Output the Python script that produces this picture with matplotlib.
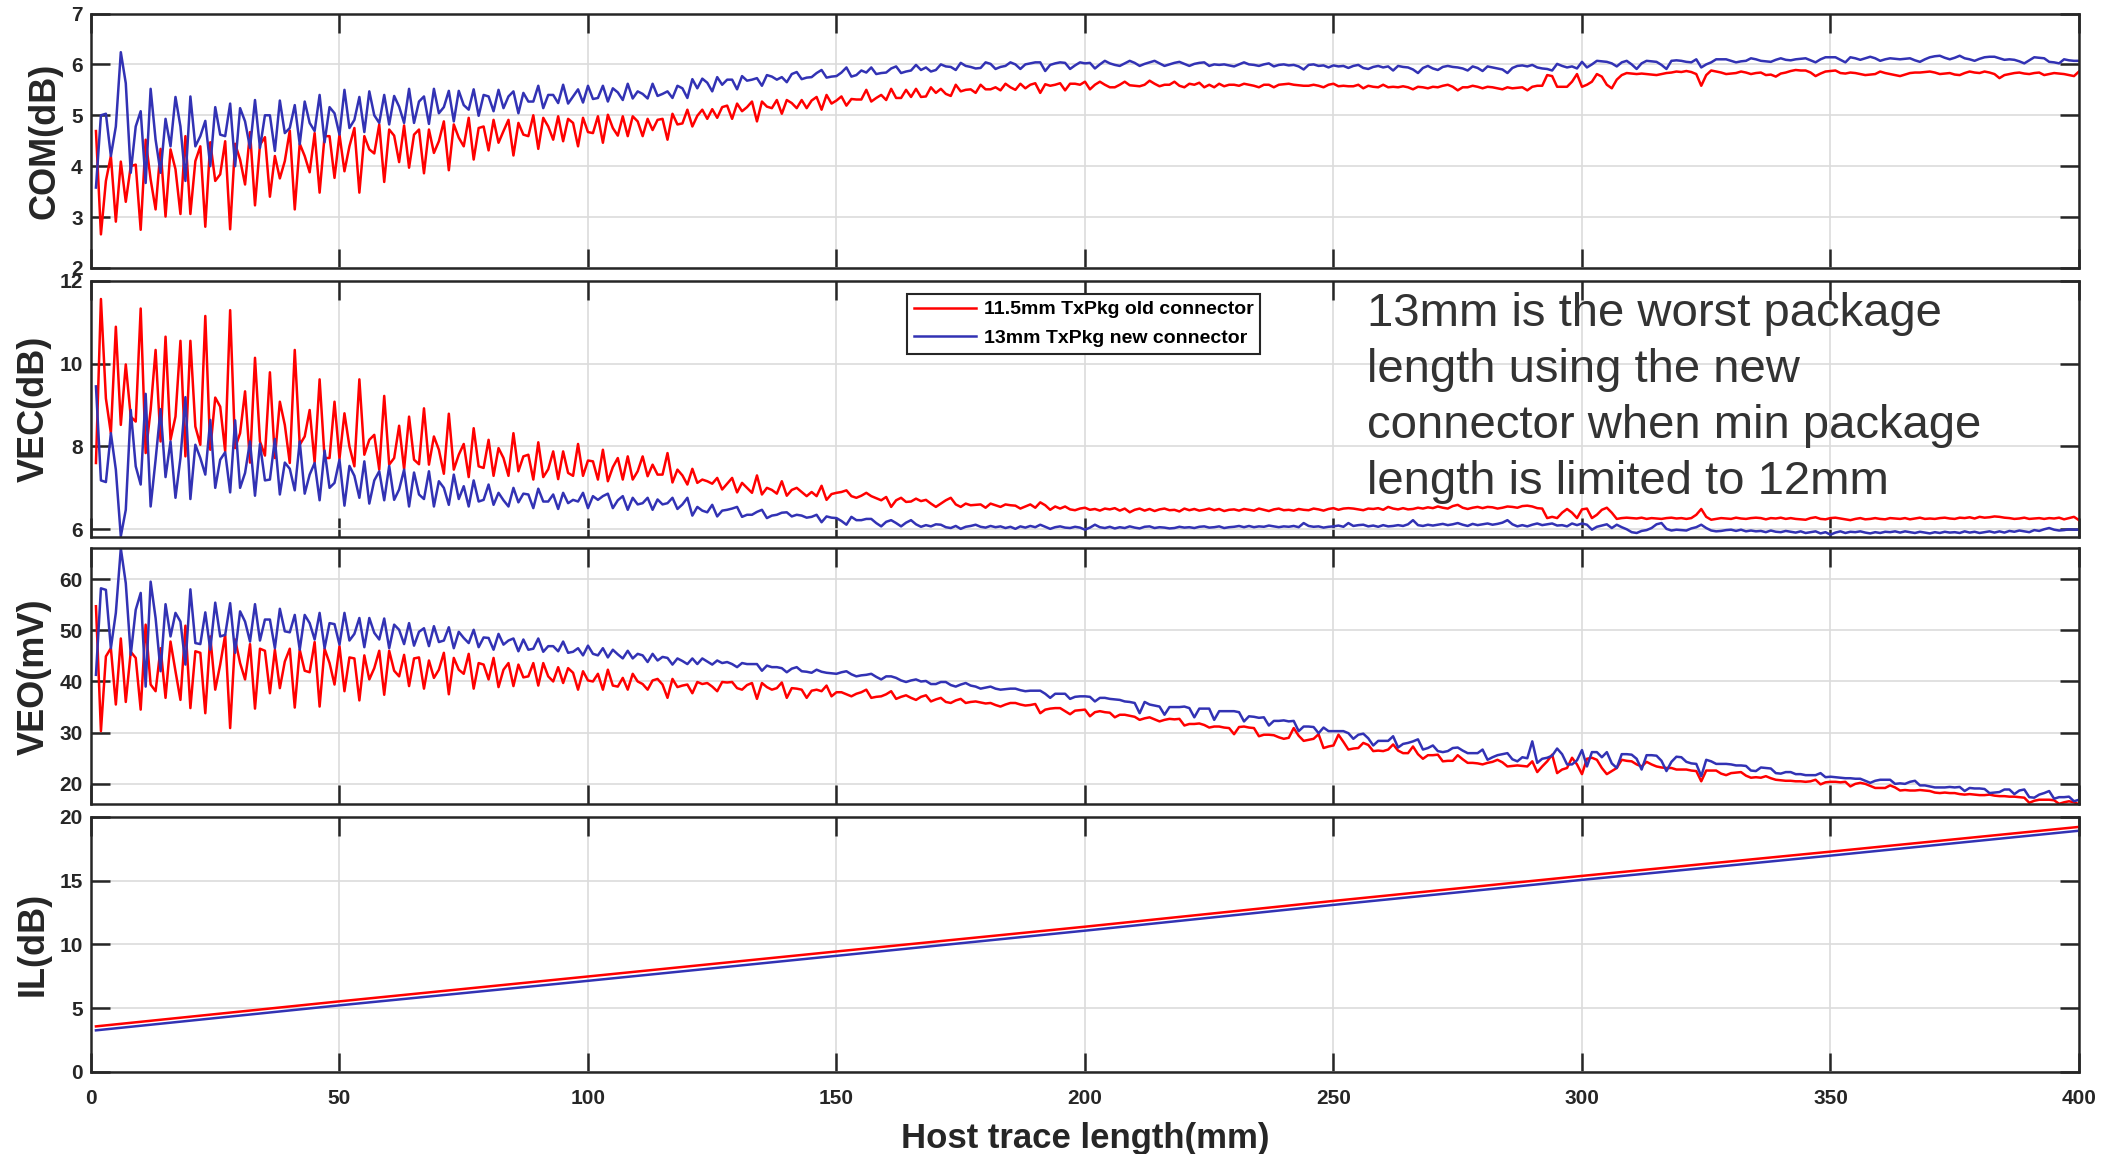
import numpy as np
import matplotlib.pyplot as plt

plt.rcParams['font.family'] = ['Liberation Sans', 'DejaVu Sans']
plt.rcParams['font.weight'] = 'bold'

old_label = '11.5mm TxPkg old connector'
new_label = '13mm TxPkg new connector'
note = ('13mm is the worst package\nlength using the new\n'
        'connector when min package\nlength is limited to 12mm')

# COM (dB), one sample per mm of host trace, 1..400
com_old = [
    4.69, 2.66, 3.71, 4.2, 2.91, 4.09, 3.3, 4.0, 4.03, 2.75,
    4.52, 3.74, 3.15, 4.34, 3.01, 4.33, 3.94, 3.06, 4.59, 3.06,
    4.1, 4.39, 2.81, 4.47, 3.71, 3.84, 4.49, 2.76, 4.44, 4.13,
    3.64, 4.67, 3.23, 4.42, 4.57, 3.4, 4.2, 3.76, 4.1, 4.7,
    3.15, 4.44, 4.2, 3.88, 4.65, 3.48, 4.59, 4.59, 3.77, 4.62,
    3.9, 4.39, 4.75, 3.48, 4.59, 4.33, 4.25, 4.82, 3.69, 4.72,
    4.6, 4.08, 4.8, 3.97, 4.62, 4.72, 3.86, 4.72, 4.26, 4.49,
    4.88, 3.92, 4.82, 4.56, 4.39, 4.95, 4.13, 4.75, 4.78, 4.31,
    4.91, 4.46, 4.69, 4.91, 4.21, 4.85, 4.62, 4.59, 5.0, 4.34,
    4.95, 4.78, 4.52, 4.98, 4.49, 4.93, 4.85, 4.39, 4.95, 4.67,
    4.65, 4.98, 4.46, 5.01, 4.75, 4.6, 4.98, 4.59, 4.98, 4.88,
    4.59, 4.93, 4.71, 4.91, 4.93, 4.52, 5.03, 4.82, 4.84, 5.11,
    4.78, 4.99, 5.11, 4.93, 5.12, 4.95, 5.16, 5.19, 4.93, 5.23,
    5.08, 5.16, 5.27, 4.88, 5.27, 5.17, 5.14, 5.3, 5.03, 5.3,
    5.24, 5.14, 5.3, 5.14, 5.29, 5.36, 5.11, 5.4, 5.23, 5.29,
    5.37, 5.19, 5.32, 5.31, 5.31, 5.5, 5.27, 5.34, 5.4, 5.3,
    5.52, 5.34, 5.34, 5.5, 5.36, 5.52, 5.36, 5.37, 5.55, 5.44,
    5.52, 5.42, 5.38, 5.6, 5.47, 5.5, 5.51, 5.44, 5.6, 5.51,
    5.51, 5.55, 5.49, 5.62, 5.55, 5.5, 5.62, 5.53, 5.6, 5.63,
    5.44, 5.61, 5.58, 5.6, 5.63, 5.49, 5.62, 5.62, 5.6, 5.66,
    5.51, 5.6, 5.66, 5.6, 5.55, 5.55, 5.6, 5.66, 5.59, 5.58,
    5.57, 5.6, 5.68, 5.62, 5.57, 5.6, 5.6, 5.66, 5.58, 5.55,
    5.62, 5.6, 5.64, 5.55, 5.6, 5.55, 5.62, 5.57, 5.6, 5.6,
    5.58, 5.62, 5.6, 5.58, 5.55, 5.6, 5.6, 5.55, 5.6, 5.61,
    5.62, 5.6, 5.59, 5.58, 5.58, 5.6, 5.58, 5.55, 5.6, 5.62,
    5.57, 5.58, 5.57, 5.57, 5.6, 5.53, 5.58, 5.56, 5.55, 5.6,
    5.55, 5.56, 5.55, 5.57, 5.55, 5.51, 5.56, 5.55, 5.53, 5.56,
    5.55, 5.58, 5.6, 5.56, 5.49, 5.55, 5.55, 5.58, 5.56, 5.53,
    5.56, 5.55, 5.53, 5.51, 5.55, 5.53, 5.54, 5.55, 5.49, 5.56,
    5.58, 5.58, 5.79, 5.77, 5.56, 5.56, 5.56, 5.66, 5.81, 5.56,
    5.6, 5.66, 5.81, 5.76, 5.6, 5.53, 5.7, 5.79, 5.83, 5.82,
    5.81, 5.82, 5.81, 5.8, 5.79, 5.81, 5.83, 5.84, 5.86, 5.85,
    5.87, 5.85, 5.81, 5.58, 5.79, 5.88, 5.86, 5.84, 5.81, 5.82,
    5.83, 5.86, 5.84, 5.81, 5.83, 5.84, 5.79, 5.8, 5.76, 5.82,
    5.84, 5.87, 5.89, 5.88, 5.88, 5.84, 5.77, 5.82, 5.86, 5.87,
    5.88, 5.83, 5.82, 5.84, 5.83, 5.81, 5.79, 5.8, 5.81, 5.86,
    5.83, 5.81, 5.79, 5.77, 5.8, 5.83, 5.84, 5.84, 5.85, 5.86,
    5.84, 5.81, 5.82, 5.83, 5.8, 5.79, 5.83, 5.86, 5.84, 5.83,
    5.86, 5.84, 5.81, 5.73, 5.79, 5.81, 5.83, 5.84, 5.82, 5.81,
    5.83, 5.84, 5.79, 5.81, 5.83, 5.82, 5.81, 5.79, 5.77, 5.86,
]
com_new = [
    3.58, 5.0, 5.03, 4.2, 4.78, 6.24, 5.63, 3.87, 4.78, 5.08,
    3.67, 5.52, 4.52, 3.87, 4.93, 4.39, 5.36, 4.78, 3.71, 5.37,
    4.39, 4.59, 4.89, 4.0, 5.16, 4.62, 4.59, 5.23, 4.0, 5.14,
    4.88, 4.36, 5.3, 4.36, 5.0, 5.0, 4.3, 5.29, 4.65, 4.75,
    5.2, 4.43, 5.27, 4.85, 4.69, 5.4, 4.47, 5.16, 5.04, 4.62,
    5.5, 4.75, 4.91, 5.36, 4.67, 5.47, 5.0, 4.85, 5.4, 4.82,
    5.38, 5.17, 4.85, 5.52, 4.85, 5.27, 5.37, 4.83, 5.52, 5.04,
    5.16, 5.48, 4.88, 5.48, 5.2, 5.11, 5.51, 4.99, 5.4, 5.37,
    5.08, 5.5, 5.14, 5.37, 5.47, 5.04, 5.44, 5.27, 5.27, 5.58,
    5.14, 5.4, 5.4, 5.24, 5.6, 5.23, 5.37, 5.51, 5.25, 5.58,
    5.32, 5.34, 5.58, 5.27, 5.53, 5.45, 5.3, 5.62, 5.33, 5.47,
    5.42, 5.33, 5.62, 5.38, 5.42, 5.47, 5.34, 5.58, 5.53, 5.34,
    5.71, 5.53, 5.72, 5.64, 5.47, 5.75, 5.6, 5.7, 5.7, 5.51,
    5.77, 5.68, 5.7, 5.73, 5.58, 5.79, 5.76, 5.7, 5.75, 5.65,
    5.81, 5.85, 5.71, 5.74, 5.75, 5.83, 5.89, 5.74, 5.76, 5.77,
    5.84, 5.94, 5.76, 5.79, 5.88, 5.84, 5.94, 5.81, 5.83, 5.84,
    5.92, 5.96, 5.83, 5.86, 5.88, 5.99, 5.89, 5.94, 5.86, 5.89,
    6.0, 5.96, 5.95, 5.89, 6.03, 5.97, 5.95, 5.92, 5.93, 6.04,
    6.01, 5.91, 5.95, 5.97, 6.04, 6.0, 5.91, 6.0, 6.02, 6.04,
    6.04, 5.87, 5.99, 6.02, 6.04, 6.03, 5.91, 5.98, 6.04, 6.02,
    6.03, 5.92, 6.0, 6.07, 6.02, 5.99, 5.97, 6.02, 6.07, 6.03,
    5.97, 6.01, 6.04, 6.07, 6.02, 5.97, 6.0, 6.03, 6.05, 6.01,
    5.97, 6.01, 6.03, 6.04, 5.97, 6.0, 5.99, 6.0, 5.98, 5.96,
    6.0, 6.04, 6.0, 5.99, 5.97, 6.0, 6.02, 5.96, 5.99, 6.0,
    5.98, 5.99, 5.96, 5.9, 5.99, 6.0, 5.97, 5.98, 5.94, 5.98,
    5.96, 5.97, 5.93, 5.97, 5.99, 5.93, 5.91, 5.95, 5.97, 5.94,
    5.96, 5.88, 5.97, 5.95, 5.94, 5.9, 5.83, 5.93, 5.97, 5.92,
    5.89, 5.95, 5.97, 5.95, 5.94, 5.92, 5.88, 5.96, 5.93, 5.87,
    5.96, 5.94, 5.92, 5.9, 5.83, 5.93, 5.97, 5.98, 5.96, 5.99,
    5.94, 5.92, 5.91, 5.88, 6.01, 5.97, 5.94, 5.96, 5.92, 6.05,
    5.94, 6.0, 6.07, 6.06, 6.05, 6.02, 5.96, 6.04, 6.07, 6.0,
    5.91, 6.02, 6.07, 6.06, 6.05, 5.99, 5.91, 6.07, 6.08, 6.07,
    6.05, 6.04, 6.1, 5.94, 6.0, 6.04, 6.1, 6.1, 6.1, 6.07,
    6.04, 6.06, 6.07, 6.12, 6.1, 6.07, 6.06, 6.05, 6.09, 6.12,
    6.09, 6.08, 6.1, 6.11, 6.12, 6.08, 6.04, 6.1, 6.14, 6.14,
    6.14, 6.09, 6.04, 6.14, 6.12, 6.09, 6.12, 6.15, 6.12, 6.07,
    6.1, 6.12, 6.11, 6.1, 6.11, 6.12, 6.08, 6.05, 6.1, 6.14,
    6.16, 6.17, 6.13, 6.1, 6.13, 6.17, 6.12, 6.1, 6.07, 6.11,
    6.14, 6.15, 6.15, 6.12, 6.09, 6.1, 6.09, 6.06, 6.02, 6.08,
    6.14, 6.13, 6.12, 6.05, 6.04, 6.02, 6.1, 6.08, 6.07, 6.07,
]

# VEC (dB)
vec_old = [
    7.6, 11.56, 9.16, 8.32, 10.89, 8.52, 9.98, 8.72, 8.6, 11.33,
    7.84, 8.88, 10.33, 8.12, 10.65, 8.16, 8.72, 10.55, 7.76, 10.55,
    8.48, 8.04, 11.15, 7.92, 9.18, 8.96, 7.88, 11.29, 7.96, 8.32,
    9.33, 7.61, 10.14, 8.12, 7.78, 9.79, 7.72, 9.08, 8.52, 7.6,
    10.33, 8.04, 8.24, 8.88, 7.61, 9.62, 7.72, 7.72, 9.08, 7.7,
    8.8, 8.0, 7.52, 9.62, 7.8, 8.16, 8.28, 7.44, 9.22, 7.56,
    7.72, 8.5, 7.45, 8.72, 7.68, 7.57, 8.92, 7.56, 8.24, 7.92,
    7.34, 8.79, 7.44, 7.8, 8.06, 7.26, 8.44, 7.52, 7.48, 8.16,
    7.29, 7.96, 7.72, 7.29, 8.32, 7.4, 7.76, 7.8, 7.2, 8.1,
    7.26, 7.45, 7.88, 7.21, 7.88, 7.36, 7.29, 8.06, 7.29, 7.66,
    7.64, 7.2, 7.92, 7.16, 7.5, 7.72, 7.2, 7.76, 7.2, 7.4,
    7.76, 7.28, 7.56, 7.32, 7.32, 7.84, 7.13, 7.44, 7.3, 7.08,
    7.46, 7.12, 7.2, 7.16, 7.1, 7.24, 6.96, 7.1, 7.24, 6.89,
    7.12, 7.0, 6.88, 7.3, 6.84, 7.0, 6.95, 6.86, 7.16, 6.81,
    6.95, 7.0, 6.9, 6.8, 6.9, 6.8, 7.05, 6.71, 6.85, 6.88,
    6.9, 6.94, 6.8, 6.76, 6.81, 6.88, 6.8, 6.75, 6.7, 6.78,
    6.54, 6.7, 6.76, 6.66, 6.67, 6.74, 6.68, 6.71, 6.62, 6.54,
    6.62, 6.7, 6.76, 6.6, 6.54, 6.62, 6.58, 6.59, 6.6, 6.52,
    6.62, 6.58, 6.54, 6.6, 6.58, 6.57, 6.5, 6.55, 6.6, 6.52,
    6.65, 6.58, 6.47, 6.55, 6.5, 6.55, 6.48, 6.46, 6.5, 6.52,
    6.47, 6.49, 6.45, 6.5, 6.48, 6.51, 6.45, 6.5, 6.41, 6.47,
    6.5, 6.45, 6.49, 6.44, 6.48, 6.5, 6.46, 6.47, 6.43, 6.5,
    6.46, 6.49, 6.45, 6.47, 6.5, 6.46, 6.49, 6.44, 6.47, 6.48,
    6.45, 6.49, 6.47, 6.45, 6.5, 6.47, 6.44, 6.48, 6.5, 6.46,
    6.47, 6.45, 6.49, 6.47, 6.46, 6.5, 6.48, 6.45, 6.49, 6.51,
    6.47, 6.5, 6.51, 6.5, 6.48, 6.46, 6.5, 6.49, 6.51, 6.47,
    6.54, 6.5, 6.48, 6.51, 6.48, 6.49, 6.52, 6.5, 6.53, 6.51,
    6.55, 6.52, 6.5, 6.56, 6.59, 6.52, 6.49, 6.52, 6.54, 6.51,
    6.54, 6.53, 6.5, 6.52, 6.55, 6.54, 6.52, 6.56, 6.57, 6.55,
    6.51, 6.5, 6.27, 6.3, 6.27, 6.4, 6.49, 6.4, 6.27, 6.48,
    6.5, 6.27, 6.35, 6.47, 6.52, 6.4, 6.25, 6.27, 6.28, 6.27,
    6.26, 6.28, 6.25, 6.27, 6.26, 6.25, 6.27, 6.28, 6.26, 6.27,
    6.25, 6.27, 6.35, 6.49, 6.3, 6.23, 6.25, 6.27, 6.26, 6.25,
    6.28, 6.26, 6.25, 6.27, 6.28, 6.27, 6.24, 6.27, 6.26, 6.28,
    6.25, 6.27, 6.25, 6.24, 6.23, 6.27, 6.29, 6.25, 6.24, 6.27,
    6.28, 6.26, 6.24, 6.22, 6.25, 6.27, 6.24, 6.25, 6.27, 6.25,
    6.24, 6.27, 6.26, 6.25, 6.27, 6.24, 6.26, 6.28, 6.25, 6.26,
    6.25, 6.27, 6.28, 6.26, 6.25, 6.28, 6.27, 6.29, 6.26, 6.3,
    6.28, 6.29, 6.31, 6.3, 6.28, 6.27, 6.25, 6.26, 6.28, 6.25,
    6.26, 6.27, 6.25, 6.27, 6.26, 6.28, 6.24, 6.27, 6.3, 6.22,
]
vec_new = [
    9.45, 7.18, 7.14, 8.32, 7.44, 5.83, 6.47, 8.88, 7.52, 7.08,
    9.27, 6.55, 7.68, 8.9, 7.26, 8.12, 6.76, 7.72, 9.19, 6.73,
    8.04, 7.72, 7.32, 8.64, 7.0, 7.68, 7.86, 6.89, 8.63, 7.0,
    7.36, 8.12, 6.81, 8.06, 7.18, 7.2, 8.18, 6.84, 7.61, 7.46,
    6.94, 8.12, 6.86, 7.32, 7.6, 6.7, 7.9, 7.0, 7.12, 7.68,
    6.57, 7.53, 7.29, 6.76, 7.64, 6.62, 7.18, 7.4, 6.7, 7.53,
    6.71, 6.96, 7.44, 6.55, 7.37, 6.84, 6.73, 7.4, 6.55, 7.16,
    7.0, 6.59, 7.32, 6.73, 7.04, 6.55, 7.18, 6.67, 6.71, 7.08,
    6.59, 6.88, 6.7, 6.55, 7.0, 6.65, 6.86, 6.84, 6.51, 6.98,
    6.67, 6.67, 6.84, 6.49, 6.88, 6.63, 6.71, 6.67, 6.88, 6.51,
    6.8, 6.71, 6.8, 6.86, 6.51, 6.7, 6.8, 6.47, 6.76, 6.6,
    6.63, 6.76, 6.47, 6.72, 6.6, 6.63, 6.76, 6.49, 6.6, 6.76,
    6.33, 6.54, 6.45, 6.41, 6.59, 6.31, 6.45, 6.47, 6.5, 6.54,
    6.3, 6.35, 6.35, 6.42, 6.47, 6.27, 6.33, 6.35, 6.4, 6.41,
    6.31, 6.35, 6.33, 6.28, 6.3, 6.35, 6.17, 6.31, 6.28, 6.27,
    6.2, 6.11, 6.3, 6.22, 6.22, 6.25, 6.25, 6.15, 6.07, 6.18,
    6.22, 6.15, 6.07, 6.16, 6.22, 6.12, 6.06, 6.1, 6.07, 6.12,
    6.11, 6.05, 6.03, 6.08, 6.01, 6.06, 6.08, 6.11, 6.06, 6.04,
    6.08, 6.05, 6.07, 6.03, 6.06, 6.01, 6.07, 6.04, 6.08, 6.05,
    6.11, 6.06, 6.01, 6.05, 6.07, 6.04, 6.03, 6.06, 6.04, 5.99,
    6.04, 6.11, 6.05, 6.03, 6.06, 6.02, 6.05, 6.03, 6.07, 6.04,
    6.02, 6.06, 6.07, 6.03, 6.05, 6.04, 6.02, 6.03, 6.06, 6.04,
    6.05, 6.03, 6.06, 6.07, 6.04, 6.05, 6.07, 6.03, 6.05, 6.06,
    6.08, 6.05, 6.08, 6.05, 6.07, 6.06, 6.09, 6.07, 6.05, 6.07,
    6.06, 6.08, 6.05, 6.15, 6.08, 6.06, 6.07, 6.04, 6.06, 6.07,
    6.09, 6.06, 6.15, 6.08, 6.1, 6.11, 6.07, 6.09, 6.06, 6.1,
    6.07, 6.08, 6.1, 6.08, 6.12, 6.22, 6.1, 6.08, 6.11, 6.09,
    6.11, 6.13, 6.1, 6.12, 6.15, 6.11, 6.08, 6.13, 6.1, 6.12,
    6.14, 6.11, 6.13, 6.16, 6.22, 6.12, 6.07, 6.1, 6.07, 6.11,
    6.14, 6.1, 6.12, 6.14, 6.09, 6.1, 6.07, 6.14, 6.1, 6.14,
    6.11, 5.99, 6.06, 6.09, 6.12, 6.03, 6.11, 6.05, 6.0, 5.93,
    5.91, 5.96, 5.98, 6.03, 6.12, 6.15, 6.01, 5.97, 5.99, 5.98,
    5.97, 6.02, 6.05, 6.11, 6.03, 5.97, 5.95, 5.96, 5.98, 5.99,
    5.96, 5.99, 5.95, 5.97, 5.95, 5.96, 5.93, 5.97, 5.94, 5.93,
    5.96, 5.94, 5.92, 5.95, 5.91, 5.93, 5.95, 5.9, 5.93, 5.87,
    5.92, 5.95, 5.91, 5.94, 5.93, 5.95, 5.92, 5.9, 5.93, 5.91,
    5.94, 5.93, 5.95, 5.92, 5.95, 5.93, 5.91, 5.94, 5.92, 5.9,
    5.93, 5.91, 5.94, 5.92, 5.93, 5.91, 5.95, 5.92, 5.94, 5.91,
    5.93, 5.95, 5.92, 5.95, 5.92, 5.96, 5.94, 5.97, 5.95, 5.93,
    5.98, 5.96, 6.0, 6.03, 5.99, 5.97, 5.98, 6.0, 5.99, 5.99,
]

# VEO (mV)
veo_old = [
    54.7, 30.3, 44.9, 46.5, 35.5, 48.4, 36.0, 45.8, 44.6, 34.5,
    51.1, 39.4, 38.1, 46.5, 36.8, 47.8, 42.0, 36.4, 50.9, 34.8,
    45.9, 45.6, 33.8, 48.8, 38.4, 43.3, 49.1, 30.9, 48.2, 43.6,
    40.4, 47.3, 34.7, 46.4, 46.0, 37.7, 46.2, 38.7, 43.9, 46.4,
    34.9, 46.2, 42.1, 41.8, 47.7, 35.1, 46.4, 43.6, 39.4, 46.9,
    38.1, 44.7, 44.5, 36.3, 45.1, 40.4, 42.6, 46.0, 37.4, 46.0,
    42.1, 41.0, 45.2, 39.1, 44.5, 44.7, 38.6, 44.1, 40.7, 42.3,
    45.6, 37.5, 44.6, 42.3, 41.5, 45.4, 38.6, 43.6, 43.3, 40.4,
    44.6, 38.9, 42.3, 43.6, 39.1, 43.3, 40.8, 41.0, 43.6, 39.2,
    43.6, 41.0, 40.0, 42.8, 39.7, 42.6, 41.7, 38.4, 42.0, 40.2,
    40.0, 41.5, 38.4, 42.3, 39.2, 39.0, 40.7, 38.4, 41.5, 40.0,
    39.5, 38.4, 40.2, 40.5, 39.4, 36.8, 40.5, 38.9, 39.2, 39.4,
    37.7, 39.9, 39.5, 39.7, 39.0, 38.1, 39.9, 39.8, 39.9, 38.7,
    38.4, 39.3, 39.7, 36.6, 39.7, 38.9, 38.4, 38.7, 39.8, 36.8,
    38.7, 38.6, 38.4, 36.8, 38.2, 38.4, 38.1, 39.2, 37.1, 37.9,
    37.9, 37.5, 37.1, 37.6, 37.9, 38.4, 36.8, 37.0, 37.1, 37.5,
    38.1, 36.6, 37.0, 37.3, 36.8, 36.4, 37.0, 37.3, 36.1, 36.5,
    36.8, 36.0, 35.8, 36.3, 36.6, 35.8, 36.0, 36.1, 35.9, 35.7,
    35.8, 35.4, 35.1, 35.5, 35.8, 35.8, 35.5, 35.3, 35.4, 35.6,
    33.8, 34.5, 34.7, 34.8, 34.8, 34.2, 33.6, 34.3, 34.4, 34.5,
    33.2, 34.0, 34.2, 34.0, 33.9, 33.0, 33.5, 33.5, 33.3, 33.1,
    32.5, 32.8, 33.0, 32.6, 32.2, 32.5, 32.7, 32.6, 32.7, 31.4,
    31.7, 31.7, 31.8, 31.5, 31.0, 31.2, 31.2, 31.0, 30.9, 29.7,
    31.1, 31.2, 31.0, 30.9, 29.3, 29.6, 29.6, 29.5, 29.1, 28.8,
    29.0, 30.9, 29.4, 28.4, 28.6, 28.8, 29.7, 27.0, 27.3, 27.5,
    29.6, 28.2, 26.7, 26.9, 27.0, 28.0, 27.6, 26.4, 26.5, 26.4,
    26.7, 27.7, 26.5, 26.0, 26.0, 27.3, 25.8, 24.9, 25.6, 25.6,
    25.7, 24.4, 24.5, 24.5, 25.6, 24.8, 24.1, 24.1, 24.0, 23.8,
    24.1, 24.3, 24.7, 24.2, 23.4, 23.5, 23.6, 23.5, 23.4, 24.4,
    22.3, 23.4, 24.4, 25.7, 22.1, 22.8, 23.1, 25.1, 23.8, 21.9,
    24.9, 25.1, 24.7, 23.1, 21.9, 22.5, 23.1, 24.7, 24.5, 24.4,
    23.8, 23.4, 24.3, 23.8, 23.4, 23.2, 23.1, 23.1, 22.8, 22.8,
    22.8, 22.6, 22.5, 20.5, 22.6, 22.6, 22.6, 22.0, 21.7, 22.1,
    22.2, 22.3, 21.6, 21.2, 21.3, 21.2, 21.5, 21.1, 20.8, 20.7,
    20.6, 20.6, 20.5, 20.5, 20.4, 20.5, 20.8, 19.9, 20.3, 20.4,
    20.4, 20.3, 20.4, 19.5, 20.0, 20.2, 20.0, 19.6, 19.2, 19.2,
    19.2, 19.7, 19.3, 18.7, 18.8, 18.7, 18.7, 18.8, 18.7, 18.6,
    18.3, 18.2, 18.3, 18.2, 18.2, 18.0, 17.9, 18.0, 17.9, 17.8,
    17.8, 17.9, 17.7, 17.6, 17.6, 17.5, 17.5, 17.4, 17.3, 16.3,
    16.7, 16.9, 16.9, 16.9, 16.8, 16.1, 16.4, 16.6, 16.4, 16.0,
]
veo_new = [
    41.3, 58.2, 57.9, 46.5, 53.4, 66.0, 59.2, 45.2, 54.0, 57.3,
    39.0, 59.5, 52.4, 42.0, 55.1, 48.8, 53.4, 51.7, 43.3, 58.0,
    47.5, 47.3, 53.5, 46.2, 55.4, 48.8, 49.1, 55.3, 45.6, 53.7,
    51.7, 47.8, 55.1, 48.0, 52.1, 52.1, 46.5, 54.2, 49.8, 49.6,
    53.0, 46.2, 53.0, 51.4, 48.2, 53.4, 46.5, 51.4, 51.2, 47.2,
    53.4, 48.0, 49.3, 52.4, 46.7, 52.4, 49.5, 48.2, 52.3, 46.5,
    51.1, 50.1, 47.3, 51.4, 47.0, 49.7, 50.4, 46.9, 50.8, 47.7,
    48.0, 50.6, 46.5, 49.7, 48.5, 47.5, 50.1, 46.7, 48.6, 48.5,
    46.2, 49.3, 47.2, 48.0, 48.4, 45.9, 48.2, 46.2, 46.4, 48.4,
    45.8, 46.9, 46.9, 45.9, 47.8, 45.6, 45.8, 46.5, 45.1, 47.0,
    45.4, 45.1, 46.5, 44.7, 46.2, 45.3, 44.5, 46.0, 44.5, 45.4,
    45.1, 43.8, 45.4, 44.1, 44.8, 44.6, 43.3, 44.5, 44.0, 43.4,
    44.5, 43.4, 44.5, 43.9, 43.3, 44.1, 43.6, 43.8, 43.4, 42.8,
    43.6, 43.4, 43.4, 43.4, 42.1, 43.1, 42.8, 42.8, 42.6, 41.8,
    42.5, 42.8, 42.0, 41.9, 41.7, 42.3, 41.9, 41.7, 41.6, 41.5,
    41.8, 42.0, 41.4, 41.0, 41.2, 41.3, 41.5, 40.9, 40.4, 41.0,
    41.0, 40.7, 40.2, 39.9, 40.2, 40.4, 40.0, 40.1, 39.5, 39.5,
    39.9, 39.9, 39.3, 39.0, 39.4, 39.7, 39.2, 39.0, 38.6, 38.8,
    39.0, 38.6, 38.4, 38.5, 38.6, 38.6, 38.3, 38.1, 38.2, 38.2,
    38.2, 37.6, 36.8, 37.6, 37.6, 37.6, 36.6, 37.0, 37.1, 37.1,
    37.0, 36.1, 36.8, 36.8, 36.6, 36.5, 36.4, 36.1, 36.0, 35.8,
    33.8, 36.0, 35.5, 35.3, 35.1, 33.5, 35.0, 35.0, 35.0, 35.1,
    34.8, 33.0, 34.7, 34.7, 34.7, 32.5, 34.2, 34.2, 34.2, 34.2,
    34.0, 32.2, 33.2, 33.1, 32.9, 33.0, 31.4, 32.3, 32.3, 32.4,
    32.2, 32.3, 30.3, 31.2, 31.2, 31.1, 29.9, 31.0, 30.3, 30.3,
    30.3, 30.3, 29.9, 28.8, 29.6, 29.8, 28.9, 27.5, 28.4, 28.4,
    28.4, 29.3, 27.1, 27.8, 28.0, 28.3, 28.7, 26.7, 27.0, 27.5,
    26.4, 26.2, 26.4, 27.0, 27.1, 26.5, 26.0, 26.0, 26.0, 26.7,
    24.7, 25.2, 25.6, 25.8, 26.0, 24.8, 24.4, 25.2, 25.0, 28.3,
    24.1, 24.9, 25.1, 25.5, 26.9, 25.8, 23.8, 23.8, 24.6, 26.6,
    23.4, 26.2, 26.2, 25.2, 26.2, 24.0, 23.1, 25.8, 25.8, 25.7,
    24.9, 22.8, 25.6, 25.6, 25.5, 24.5, 22.5, 24.3, 25.3, 25.2,
    24.3, 24.0, 23.9, 21.5, 24.7, 24.4, 23.9, 23.9, 23.9, 23.8,
    23.6, 23.6, 23.5, 22.6, 22.5, 23.2, 23.1, 23.0, 22.1, 22.0,
    22.3, 22.3, 21.9, 21.9, 21.7, 21.7, 21.7, 22.1, 21.3, 21.4,
    21.3, 21.2, 21.1, 21.1, 21.0, 21.0, 20.6, 20.2, 20.6, 20.8,
    20.8, 20.8, 20.0, 20.1, 20.0, 20.4, 20.6, 19.7, 19.7, 19.5,
    19.3, 19.3, 19.3, 19.4, 19.3, 19.4, 18.6, 19.2, 19.1, 19.1,
    19.0, 18.2, 18.3, 18.4, 18.9, 18.9, 18.0, 18.7, 18.9, 17.4,
    17.3, 17.9, 18.2, 18.6, 17.1, 17.4, 17.4, 17.5, 16.6, 16.9,
]

# IL (dB), straight lines read at a few trace lengths
il_mm = [1, 50, 100, 150, 200, 250, 300, 350, 400]
il_old = [3.57, 5.53, 7.48, 9.44, 11.38, 13.4, 15.36, 17.26, 19.2]
il_new = [3.26, 5.22, 7.14, 9.1, 11.07, 13.09, 15.05, 16.95, 18.9]

red = '#ff0000'
blue = '#3232b4'
ink = '#262626'

fig = plt.figure(figsize=(21.16, 11.54), dpi=100)
left, width = 0.043, 0.9395
boxes = [(0.7678, 0.2205), (0.5349, 0.2218), (0.3030, 0.2218), (0.0711, 0.2212)]
axes = [fig.add_axes([left, b, width, h]) for b, h in boxes]

panels = [
    (com_old, com_new, 'COM(dB)', (2, 7), [2, 3, 4, 5, 6, 7], -0.0145),
    (vec_old, vec_new, 'VEC(dB)', (5.82, 12), [6, 8, 10, 12], -0.0195),
    (veo_old, veo_new, 'VEO(mV)', (16, 66), [20, 30, 40, 50, 60], -0.0195),
]

for ax, (old, new, name, lim, ticks, lx) in zip(axes[:3], panels):
    ax.plot(np.arange(1, len(old) + 1), old, color=red, lw=1.8, label=old_label)
    ax.plot(np.arange(1, len(new) + 1), new, color=blue, lw=1.8, label=new_label)
    ax.set_ylim(*lim)
    ax.set_yticks(ticks)
    ax.set_ylabel(name, fontsize=26, fontweight='bold', color=ink)
    ax.yaxis.set_label_coords(lx, 0.5)

ax_il = axes[3]
ax_il.plot(il_mm, il_old, color=red, lw=1.8)
ax_il.plot(il_mm, il_new, color=blue, lw=1.8)
ax_il.set_ylim(0, 20)
ax_il.set_yticks([0, 5, 10, 15, 20])
ax_il.set_ylabel('IL(dB)', fontsize=26, fontweight='bold', color=ink)
ax_il.yaxis.set_label_coords(-0.0205, 0.5)
ax_il.set_xlabel('Host trace length(mm)', fontsize=25, fontweight='bold',
                 color=ink, labelpad=10)

for i, ax in enumerate(axes):
    ax.set_xlim(0, 400)
    ax.set_xticks(range(0, 401, 50))
    ax.grid(True, color='#dcdcdc', lw=1.2)
    ax.set_axisbelow(True)
    ax.tick_params(direction='in', length=14, width=1.8, top=True, right=True,
                   color=ink, labelcolor=ink, labelsize=15, pad=6)
    ax.tick_params(axis='x', pad=12)
    if i < 3:
        ax.tick_params(labelbottom=False)
    for s in ax.spines.values():
        s.set_linewidth(1.8)
        s.set_color(ink)

leg = axes[1].legend(loc='upper left', bbox_to_anchor=(0.4105, 0.948),
                     prop={'size': 14, 'weight': 'bold'}, fancybox=False,
                     edgecolor=ink, framealpha=1, borderpad=0.35,
                     labelspacing=0.55, handlelength=3.2, handletextpad=0.4,
                     borderaxespad=0)
leg.get_frame().set_linewidth(1.5)

axes[1].text(0.642, 0.958, note, transform=axes[1].transAxes, fontsize=34,
             fontweight='normal', color='#333333', va='top', ha='left',
             linespacing=1.36)

fig.savefig('out.png', dpi=100)
